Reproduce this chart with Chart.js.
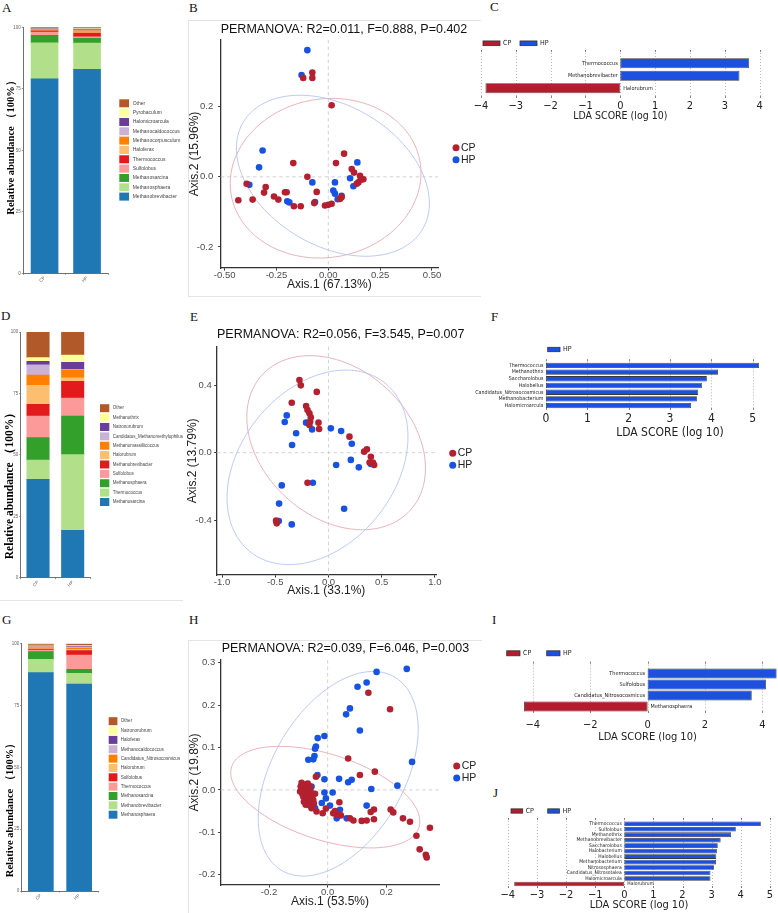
<!DOCTYPE html>
<html><head><meta charset="utf-8">
<script src="https://cdn.jsdelivr.net/npm/chart.js@4.4.1/dist/chart.umd.min.js"></script>
<style>
body{margin:0;width:778px;height:913px;background:#fff;position:relative;overflow:hidden}
canvas{position:absolute}
.lt{position:absolute;font-family:'Liberation Serif','Times New Roman',serif;font-size:13px;line-height:13px;color:#111}
.fr{position:absolute;border:0 solid #e4e4e4}
</style></head><body>
<div class="fr" style="left:188px;top:20px;width:292px;height:275px;border-top-width:1px;border-left-width:1px;border-bottom-width:1px"></div>
<div class="fr" style="left:188px;top:640px;width:293px;height:272px;border-top-width:1px;border-left-width:1px;border-bottom-width:1px"></div>
<div class="fr" style="left:0px;top:600px;width:183px;height:0px;border-top-width:1px"></div>
<div class="lt" style="left:2px;top:1px">A</div>
<div class="lt" style="left:189px;top:1px">B</div>
<div class="lt" style="left:490px;top:0px">C</div>
<div class="lt" style="left:1px;top:309px">D</div>
<div class="lt" style="left:190px;top:310px">E</div>
<div class="lt" style="left:491px;top:310px">F</div>
<div class="lt" style="left:2px;top:613px">G</div>
<div class="lt" style="left:189px;top:613px">H</div>
<div class="lt" style="left:492px;top:613px">I</div>
<div class="lt" style="left:493px;top:786px">J</div>
<script>
// ---------------- DATA ----------------
const groups = ['CP','HP'];
const pctTicks = [0,25,50,75,100];
const pctLabels = ['0','25','50','75','100'];

// Panel A
const taxaA = ['Methanobrevibacter','Methanosphaera','Methanosarcina','Sulfolobus','Thermococcus','Haloferax','Methanocorpusculum','Methanocaldococcus','Halomicroarcula','Pyrobaculum','Other'];
const cpA = [79.1,14.6,3.0,1.4,0.5,0.3,0.2,0.2,0.1,0.1,0.5];
const hpA = [82.9,10.7,1.9,0.6,1.5,0.6,0.4,0.4,0.3,0.3,0.4];
// Panel D
const taxaD = ['Methanosarcina','Thermococcus','Methanosphaera','Sulfolobus','Methanobrevibacter','Halorubrum','Methanomassiliicoccus','Candidatus_Methanomethylophilus','Natronorubrum','Methanothrix','Other'];
const cpD = [40.0,7.9,9.1,8.8,4.8,7.7,4.2,4.1,1.5,1.5,10.4];
const hpD = [19.3,30.8,15.7,7.3,6.8,1.4,3.2,0.3,2.9,2.9,9.4];
// Panel G
const taxaG = ['Methanosphaera','Methanobrevibacter','Methanosarcina','Thermococcus','Sulfolobus','Halorubrum','Candidatus_Nitrosocosmicus','Methanocaldococcus','Haloferax','Natronorubrum','Other'];
const cpG = [88.3,5.4,3.1,0.6,0.4,0.5,0.3,0.4,0.1,0.3,0.6];
const hpG = [83.7,4.3,1.6,5.8,1.8,0.5,0.4,0.6,0.2,0.3,0.8];

// Panel B (PCoA)
const cpB = [[-0.077,0.297],[-0.077,0.282],[-0.121,0.282],[0.016,0.204],[0.076,0.066],[0.037,0.039],[-0.169,0.039],[-0.101,0.0],[-0.056,-0.043],[-0.394,-0.020],[-0.434,-0.067],[-0.365,-0.065],[-0.302,-0.029],[-0.310,-0.045],[-0.262,-0.056],[-0.241,-0.065],[-0.209,-0.044],[-0.201,-0.044],[-0.166,-0.084],[-0.133,-0.084],[-0.068,-0.075],[-0.016,-0.082],[0.0,-0.080],[0.016,-0.077],[0.056,-0.063],[0.064,-0.058],[0.113,0.022],[0.124,0.012],[0.153,0.003],[0.169,-0.007],[0.145,-0.016],[0.156,-0.009],[0.137,-0.020]];
const hpB = [[-0.101,0.361],[-0.129,0.290],[-0.317,0.075],[-0.334,0.027],[-0.381,-0.023],[-0.198,-0.070],[-0.188,-0.073],[-0.077,-0.016],[-0.064,-0.072],[0.032,-0.016],[0.024,-0.039],[0.032,-0.048],[0.045,-0.064],[0.064,-0.054],[0.105,-0.004],[0.140,0.041],[0.121,-0.027]];
const xTicksB = [-0.5,-0.25,0,0.25,0.5], xLabelsB = ['-0.50','-0.25','0.00','0.25','0.50'];
const yTicksB = [-0.2,0,0.2], yLabelsB = ['-0.2','0.0','0.2'];
const ellB = [{g:'CP',c:[-0.013,-0.004],u:[0.46,0.015],v:[0.0,0.227]},{g:'HP',c:[0.022,0.003],u:[0.46,-0.045],v:[-0.07,0.225]}];

// Panel E
const cpE = [[-0.273,0.431],[-0.260,0.399],[-0.110,0.360],[-0.345,0.296],[-0.210,0.277],[-0.197,0.253],[-0.179,0.233],[-0.166,0.209],[-0.172,0.184],[-0.179,0.164],[-0.094,0.178],[-0.088,0.140],[0.197,0.095],[0.335,0.006],[0.361,0.020],[0.398,-0.024],[0.386,-0.059],[0.417,-0.059],[0.429,-0.073],[-0.197,-0.178],[-0.492,-0.403],[-0.486,-0.419]];
const hpE = [[-0.392,0.221],[-0.411,0.182],[-0.210,0.178],[-0.154,0.138],[-0.304,0.115],[-0.342,0.045],[0.022,0.144],[0.119,0.128],[0.219,0.053],[0.210,-0.043],[0.285,-0.087],[0.072,-0.073],[0.398,-0.067],[-0.147,-0.178],[-0.439,-0.194],[-0.464,-0.302],[-0.467,-0.405],[-0.345,-0.425],[0.147,-0.332]];
const xTicksE = [-1,-0.5,0,0.5,1], xLabelsE = ['-1.0','-0.5','0.0','0.5','1.0'];
const yTicksE = [-0.4,0,0.4], yLabelsE = ['-0.4','0.0','0.4'];
const ellE = [{g:'CP',c:[0.072,0.059],u:[0.693,-0.403],v:[-0.473,-0.322]},{g:'HP',c:[-0.103,-0.087],u:[0.633,0.5],v:[0.567,-0.287]}];

// Panel H
const cpH = [[0.139,0.229],[0.213,0.190],[0.070,0.074],[0.161,0.043],[0.110,0.035],[-0.040,0.031],[-0.089,0.017],[-0.094,-0.004],[-0.083,0.0],[-0.072,-0.008],[-0.060,0.008],[-0.043,-0.009],[-0.077,-0.024],[-0.066,-0.027],[-0.049,-0.024],[-0.055,-0.043],[-0.038,-0.051],[-0.017,-0.055],[-0.006,-0.044],[0.040,-0.029],[0.019,-0.055],[0.031,-0.059],[0.076,-0.067],[0.088,-0.072],[0.116,-0.073],[0.133,-0.072],[0.158,-0.069],[0.147,-0.052],[0.158,-0.046],[0.215,-0.046],[0.224,-0.053],[0.257,-0.067],[0.281,-0.075],[0.349,-0.089],[0.303,-0.108],[0.314,-0.140],[0.335,-0.153],[0.338,-0.159],[-0.083,-0.016],[-0.092,0.008],[-0.086,-0.010],[-0.079,0.012],[-0.070,0.004],[-0.065,-0.015],[-0.058,-0.004],[-0.075,-0.035],[-0.062,-0.036],[-0.050,-0.012],[-0.068,0.015],[-0.081,-0.028],[-0.047,-0.032],[0.025,-0.050],[0.045,-0.060]];
const hpH = [[0.167,0.278],[0.270,0.285],[0.133,0.253],[0.102,0.243],[0.076,0.192],[0.063,0.178],[0.110,0.140],[-0.011,0.127],[-0.034,0.122],[-0.040,0.102],[-0.043,0.097],[-0.045,0.080],[-0.049,0.072],[-0.066,0.071],[0.288,0.066],[-0.035,0.035],[-0.011,0.025],[0.039,0.026],[0.070,0.018],[0.082,0.024],[0.238,0.010],[0.149,0.002],[-0.011,-0.006],[0.017,-0.006],[-0.006,-0.020],[-0.020,-0.031],[0.008,-0.037],[0.133,-0.037],[0.042,-0.047],[0.031,-0.067],[0.065,-0.067],[-0.055,-0.039],[-0.043,-0.043],[-0.077,0.012],[-0.055,0.008]];
const xTicksH = [-0.2,0,0.2], xLabelsH = ['-0.2','0.0','0.2'];
const yTicksH = [-0.2,-0.1,0,0.1,0.2,0.3], yLabelsH = ['-0.2','-0.1','0.0','0.1','0.2','0.3'];
const ellH = [{g:'CP',c:[-0.008,-0.017],u:[0.3195,-0.0714],v:[-0.0449,-0.096]},{g:'HP',c:[0.036,0.038],u:[0.192,0.228],v:[0.194,-0.078]}];

// LDA panels
const taxaC = ['Thermococcus','Methanobrevibacter','Halorubrum'];
const ldaC = [3.70,3.42,-3.87];
const grpC = ['HP','HP','CP'];
const ticksC = [-4,-3,-2,-1,0,1,2,3,4], tickLabelsC = ['\u22124','\u22123','\u22122','\u22121','0','1','2','3','4'];

const taxaF = ['Thermococcus','Methanothrix','Saccharolobus','Halobellus','Candidatus_Nitrosocosmicus','Methanobacterium','Halomicroarcula'];
const ldaF = [5.15,4.16,3.89,3.77,3.68,3.65,3.51];
const grpF = ['HP','HP','HP','HP','HP','HP','HP'];
const ticksF = [0,1,2,3,4,5], tickLabelsF = ['0','1','2','3','4','5'];

const taxaI = ['Thermococcus','Sulfolobus','Candidatus_Nitrosocosmicus','Methanosphaera'];
const ldaI = [4.50,4.13,3.63,-4.31];
const grpI = ['HP','HP','HP','CP'];
const ticksI = [-4,-2,0,2,4], tickLabelsI = ['\u22124','\u22122','0','2','4'];

const taxaJ = ['Thermococcus','Sulfolobus','Methanothrix','Methanobrevibacter','Saccharolobus','Halobacterium','Halobellus','Methanobacterium','Nitrososphaera','Candidatus_Nitrosotalea','Halomicroarcula','Halorubrum'];
const ldaJ = [4.69,3.83,3.67,3.31,3.21,3.18,3.16,3.15,3.08,2.96,2.96,-3.78];
const grpJ = ['HP','HP','HP','HP','HP','HP','HP','HP','HP','HP','HP','CP'];
const ticksJ = [-4,-3,-2,-1,0,1,2,3,4,5], tickLabelsJ = ['\u22124','\u22123','\u22122','\u22121','0','1','2','3','4','5'];

// ---------------- STYLE ----------------
const PAL = ['#1F78B4','#B2DF8A','#33A02C','#FB9A99','#E31A1C','#FDBF6F','#FF7F00','#CAB2D6','#6A3D9A','#FFFF99','#B15928'];
const PT_COL = {CP:'#B3202F', HP:'#1752E3'};
const ELL_COL = {CP:'#e6a9b0', HP:'#b4c4f0'};
const BAR_COL = {CP:'#B31D2E', HP:'#1D50DE'};
const SANS = "'Liberation Sans', Arial, sans-serif";
const SERIF = "'Liberation Serif', 'Times New Roman', serif";
const COND = "'DejaVu Sans Condensed', 'DejaVu Sans', sans-serif";

function mkCanvas(L,T,W,H){const c=document.createElement('canvas');c.width=W;c.height=H;c.style.left=L+'px';c.style.top=T+'px';c.style.width=W+'px';c.style.height=H+'px';document.body.appendChild(c);return c;}
function textPlugin(items,L,T){return {id:'txt',afterDraw(chart){const ctx=chart.ctx;items.forEach(it=>{ctx.save();ctx.font=it.f;ctx.fillStyle=it.c||'#111';ctx.textAlign=it.a||'center';ctx.textBaseline='middle';ctx.translate(it.x-L,it.y-T);if(it.r)ctx.rotate(it.r*Math.PI/180);ctx.fillText(it.t,0,0);ctx.restore();});}};}
const base = {responsive:false,animation:false,devicePixelRatio:1};

function stackChart(g,taxa,cpv,hpv){
  const cv=mkCanvas(g.L,g.T,g.W,g.H); const lg=g.lg;
  const legendPlugin={id:'slg',afterDraw(chart){const ctx=chart.ctx;const ds=chart.data.datasets;const n=ds.length;ctx.save();ctx.font=lg.f+'px '+SANS;ctx.textBaseline='middle';ctx.textAlign='left';
    for(let k=0;k<n;k++){const d=ds[n-1-k];const cy=lg.y0+k*lg.dy-g.T;ctx.fillStyle=d.backgroundColor;ctx.fillRect(lg.sx-g.L,cy-lg.sh/2,lg.sw,lg.sh);ctx.fillStyle='#444';ctx.fillText(d.label,lg.tx-g.L,cy);}ctx.restore();}};
  const axisCommon={grid:{display:true,drawOnChartArea:false,drawTicks:true,tickLength:1.5,color:'#777',lineWidth:0.8},border:{display:true,color:'#707070',width:1}};
  new Chart(cv,{type:'bar',
    data:{labels:groups,datasets:taxa.map((t,i)=>({label:t,data:[cpv[i],hpv[i]],backgroundColor:PAL[i],borderWidth:0,barThickness:g.bt}))},
    options:Object.assign({},base,{
      layout:{padding:{left:0,top:g.top-g.T,right:g.L+g.W-g.right,bottom:0}},
      plugins:{legend:{display:false},tooltip:{enabled:false}},
      scales:{
        x:Object.assign({stacked:true,offset:true,ticks:{font:{size:g.tf,family:SANS},color:'#666',minRotation:45,maxRotation:45,padding:0.5,autoSkip:false},afterFit:s=>{s.height=g.T+g.H-g.bottom;}},axisCommon),
        y:Object.assign({stacked:true,min:0,max:100,afterBuildTicks:s=>{s.ticks=pctTicks.map(v=>({value:v}));},ticks:{font:{size:g.tf,family:SANS},color:'#666',padding:1,callback:(v,i)=>pctLabels[i]},afterFit:s=>{s.width=g.left-g.L;}},axisCommon)
      }}),
    plugins:[legendPlugin,textPlugin([{t:'Relative abundance （100%）',x:g.yt.x,y:g.yt.y,f:'bold '+g.yt.s+'px '+SERIF,r:-90,c:'#000'}],g.L,g.T)]
  });
}

function scatterChart(g,cp,hp,xt,xl,yt,yl,ells,texts){
  const cv=mkCanvas(g.L,g.T,g.W,g.H);
  const ellP={id:'ell',beforeDatasetsDraw(chart){const {ctx,scales:{x,y},chartArea:a}=chart;ctx.save();
    ctx.setLineDash([3.5,3]);ctx.strokeStyle='#c8c8c8';ctx.lineWidth=0.8;
    const x0=x.getPixelForValue(0),y0=y.getPixelForValue(0);
    ctx.beginPath();ctx.moveTo(x0,a.top);ctx.lineTo(x0,a.bottom);ctx.moveTo(a.left,y0);ctx.lineTo(a.right,y0);ctx.stroke();ctx.setLineDash([]);
    ells.forEach(e=>{ctx.beginPath();for(let k=0;k<=180;k++){const t=k/180*2*Math.PI;const dx=e.c[0]+e.u[0]*Math.cos(t)+e.v[0]*Math.sin(t);const dy=e.c[1]+e.u[1]*Math.cos(t)+e.v[1]*Math.sin(t);const px=x.getPixelForValue(dx),py=y.getPixelForValue(dy);if(k)ctx.lineTo(px,py);else ctx.moveTo(px,py);}ctx.strokeStyle=ELL_COL[e.g];ctx.lineWidth=0.9;ctx.stroke();});
    ctx.restore();}};
  const legP={id:'plg',afterDraw(chart){const ctx=chart.ctx;ctx.save();chart.data.datasets.forEach((d,k)=>{const cx=g.lg.x-g.L,cy=g.lg.y+k*g.lg.dy-g.T;ctx.fillStyle=d.backgroundColor;ctx.beginPath();ctx.arc(cx,cy,3.5,0,2*Math.PI);ctx.fill();ctx.fillStyle='#222';ctx.font='10.5px '+SANS;ctx.textAlign='left';ctx.textBaseline='middle';ctx.fillText(d.label,cx+5,cy);});ctx.restore();}};
  const ax=(ticks,labels,isX)=>({type:'linear',afterBuildTicks:s=>{s.ticks=ticks.map(v=>({value:v}));},
    ticks:{callback:(v,i)=>labels[i],font:{size:9.5,family:SANS,lineHeight:1},color:'#4d4d4d',padding:isX?g.xp:g.yp,maxRotation:0,autoSkip:false},
    grid:{display:true,drawOnChartArea:false,drawTicks:true,tickLength:2.5,color:'#333',lineWidth:1},border:{display:true,color:'#333',width:1.3}});
  new Chart(cv,{type:'scatter',
    data:{datasets:[
      {label:'CP',data:cp.map(p=>({x:p[0],y:p[1]})),backgroundColor:PT_COL.CP,borderWidth:0,pointRadius:3.3},
      {label:'HP',data:hp.map(p=>({x:p[0],y:p[1]})),backgroundColor:PT_COL.HP,borderWidth:0,pointRadius:3.3}]},
    options:Object.assign({},base,{
      layout:{padding:{left:0,top:g.top-g.T,right:g.L+g.W-g.right,bottom:0}},
      plugins:{legend:{display:false},tooltip:{enabled:false}},
      scales:{
        x:Object.assign(ax(xt,xl,true),{min:g.xmin,max:g.xmax,afterFit:s=>{s.height=g.T+g.H-g.bottom;}}),
        y:Object.assign(ax(yt,yl,false),{min:g.ymin,max:g.ymax,afterFit:s=>{s.width=g.left-g.L;}})
      }}),
    plugins:[ellP,legP,textPlugin(texts,g.L,g.T)]
  });
}

function ldaChart(g,taxa,vals,grp,tv,tl){
  const cv=mkCanvas(g.L,g.T,g.W,g.H);
  const gridP={id:'lgrid',beforeDatasetsDraw(chart){const {ctx,scales:{x}}=chart;ctx.save();tv.forEach(v=>{const px=Math.round(x.getPixelForValue(v))+0.5;ctx.strokeStyle='#a5a5a5';ctx.lineWidth=0.8;ctx.setLineDash([1,2]);ctx.beginPath();ctx.moveTo(px,g.gt-g.T);ctx.lineTo(px,g.gb-g.T);ctx.stroke();ctx.setLineDash([]);ctx.strokeStyle='#666';ctx.beginPath();ctx.moveTo(px,g.gt-g.T);ctx.lineTo(px,g.gt-g.T+2);ctx.moveTo(px,g.gb-g.T-2);ctx.lineTo(px,g.gb-g.T);ctx.stroke();});ctx.restore();}};
  const labP={id:'llab',afterDatasetsDraw(chart){const {ctx,scales:{x,y}}=chart;const x0=x.getPixelForValue(0);ctx.save();ctx.font=g.lf+'px '+COND;ctx.fillStyle='#222';ctx.textBaseline='middle';
    taxa.forEach((t,i)=>{const py=y.getPixelForValue(i);if(vals[i]>=0){ctx.textAlign='right';ctx.fillText(t,x0-2.5,py);}else{ctx.textAlign='left';ctx.fillText(t,x0+3,py);}});ctx.restore();}};
  const present=groups.filter(gr=>grp.indexOf(gr)>=0);
  const legP={id:'llg',afterDraw(chart){const ctx=chart.ctx;ctx.save();present.forEach((gr,k)=>{const bx=g.lg.x[k]-g.L,by=g.lg.y-g.T;ctx.fillStyle=BAR_COL[gr];ctx.fillRect(bx,by-g.lg.h/2,g.lg.w,g.lg.h);ctx.strokeStyle='#333';ctx.lineWidth=0.8;ctx.strokeRect(bx,by-g.lg.h/2,g.lg.w,g.lg.h);ctx.fillStyle='#222';ctx.font=g.lg.f+'px '+COND;ctx.textAlign='left';ctx.textBaseline='middle';ctx.fillText(gr,bx+g.lg.w+3,by);});ctx.restore();}};
  new Chart(cv,{type:'bar',
    data:{labels:taxa,datasets:[{data:vals,backgroundColor:grp.map(gr=>BAR_COL[gr]),borderColor:'#3a3a3a',borderWidth:0.8,borderSkipped:false,barPercentage:g.bp,categoryPercentage:1}]},
    options:Object.assign({},base,{indexAxis:'y',
      layout:{padding:{left:g.left-g.L,top:g.top-g.T,right:g.L+g.W-g.right,bottom:0}},
      plugins:{legend:{display:false},tooltip:{enabled:false}},
      scales:{
        x:{type:'linear',min:g.xmin,max:g.xmax,afterBuildTicks:s=>{s.ticks=tv.map(v=>({value:v}));},
           ticks:{callback:(v,i)=>tl[i],font:{size:g.tf,family:COND},color:'#222',padding:g.tp,maxRotation:0,autoSkip:false},
           grid:{display:false,drawTicks:false,tickLength:0},border:{display:false},afterFit:s=>{s.height=g.T+g.H-g.bottom;}},
        y:{display:false}
      }}),
    plugins:[gridP,labP,legP,textPlugin([{t:'LDA SCORE (log 10)',x:g.tt.x,y:g.tt.y,f:g.tt.s+'px '+COND,c:'#222'}],g.L,g.T)]
  });
}

// ---------------- PANELS ----------------
stackChart({L:0,T:0,W:190,H:300,left:23.3,right:108.3,top:27.3,bottom:273.3,bt:27,tf:4.5,
  lg:{sx:119.3,sw:9.7,sh:8,y0:103.3,dy:9.33,tx:132.7,f:5},yt:{x:11.7,y:145,s:10.5}},taxaA,cpA,hpA);
stackChart({L:0,T:305,W:190,H:300,left:20.7,right:90,top:332,bottom:577.7,bt:22.4,tf:4.5,
  lg:{sx:100,sw:9.3,sh:8,y0:408.2,dy:9.38,tx:112.7,f:4.5},yt:{x:10,y:483,s:11.5}},taxaD,cpD,hpD);
stackChart({L:0,T:615,W:190,H:298,left:21.7,right:98.3,top:643.7,bottom:891,bt:25,tf:4.5,
  lg:{sx:108.7,sw:8.7,sh:8,y0:721.2,dy:9.35,tx:120.7,f:4.6},yt:{x:10,y:807.5,s:10.5}},taxaG,cpG,hpG);

scatterChart({L:186,T:20,W:300,H:280,left:220.7,right:438,top:40,bottom:268,xmin:-0.519,xmax:0.529,ymin:-0.26,ymax:0.39,xp:0,yp:5,lg:{x:456,y:147.7,dy:12}},
  cpB,hpB,xTicksB,xLabelsB,yTicksB,yLabelsB,ellB,
  [{t:'PERMANOVA: R2=0.011, F=0.888, P=0.402',x:220.7,y:29.3,f:'12.5px '+SANS,a:'left',c:'#111'},
   {t:'Axis.1 (67.13%)',x:329.3,y:285,f:'12px '+SANS,c:'#222'},
   {t:'Axis.2 (15.96%)',x:194.5,y:154,f:'12px '+SANS,c:'#222',r:-90}]);
scatterChart({L:186,T:320,W:300,H:280,left:216.7,right:436,top:346.7,bottom:575,xmin:-1.05,xmax:1.01,ymin:-0.725,ymax:0.628,xp:0,yp:2.5,lg:{x:452.7,y:453.3,dy:12}},
  cpE,hpE,xTicksE,xLabelsE,yTicksE,yLabelsE,ellE,
  [{t:'PERMANOVA: R2=0.056, F=3.545, P=0.007',x:217,y:335,f:'12.5px '+SANS,a:'left',c:'#111'},
   {t:'Axis.1 (33.1%)',x:326.3,y:590.7,f:'12px '+SANS,c:'#222'},
   {t:'Axis.2 (13.79%)',x:192.5,y:460.8,f:'12px '+SANS,c:'#222',r:-90}]);
scatterChart({L:186,T:638,W:300,H:275,left:220.7,right:439.3,top:660,bottom:885,xmin:-0.365,xmax:0.381,ymin:-0.224,ymax:0.306,xp:0.5,yp:3,lg:{x:456.7,y:766,dy:12}},
  cpH,hpH,xTicksH,xLabelsH,yTicksH,yLabelsH,ellH,
  [{t:'PERMANOVA: R2=0.039, F=6.046, P=0.003',x:221.7,y:649,f:'12.5px '+SANS,a:'left',c:'#111'},
   {t:'Axis.1 (53.5%)',x:330,y:901.7,f:'12px '+SANS,c:'#222'},
   {t:'Axis.2 (19.8%)',x:194.5,y:772.5,f:'12px '+SANS,c:'#222',r:-90}]);

ldaChart({L:450,T:30,W:328,H:95,left:479.2,right:761.4,top:57,bottom:94.5,xmin:-4.05,xmax:4.05,bp:0.8,tf:11,tp:4.9,lf:5.5,gt:50,gb:98,
  lg:{x:[483,520],y:43.3,w:17,h:4.7,f:7},tt:{x:620.3,y:116.7,s:10.5}},taxaC,ldaC,grpC,ticksC,tickLabelsC);
ldaChart({L:450,T:340,W:328,H:105,left:546,right:761,top:362,bottom:409,xmin:0,xmax:5.2,bp:0.8,tf:12,tp:3.1,lf:5.3,gt:359.3,gb:410,
  lg:{x:[547.7],y:349.5,w:12.3,h:4.4,f:7},tt:{x:670,y:433.3,s:12}},taxaF,ldaF,grpF,ticksF,tickLabelsF);
ldaChart({L:450,T:640,W:328,H:105,left:521.4,right:776.7,top:668,bottom:712,xmin:-4.4,xmax:4.5,bp:0.9,tf:11,tp:6.4,lf:5.5,gt:661.7,gb:713,
  lg:{x:[506.7,546.7],y:653.3,w:13.3,h:5,f:7},tt:{x:647.5,y:737.3,s:11}},taxaI,ldaI,grpI,ticksI,tickLabelsI);
ldaChart({L:450,T:800,W:328,H:113,left:506.4,right:771.3,top:821,bottom:886.7,xmin:-4.05,xmax:5.05,bp:0.85,tf:11,tp:1.7,lf:5,gt:818,gb:888,
  lg:{x:[511,547.7],y:811,w:11.7,h:4.3,f:7},tt:{x:639,y:905,s:11}},taxaJ,ldaJ,grpJ,ticksJ,tickLabelsJ);
</script>
</body></html>
